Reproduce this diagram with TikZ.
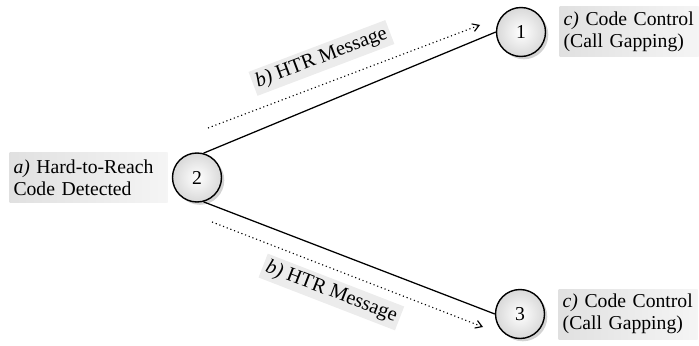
\documentclass[tikz,border=0pt]{standalone}
\usepackage{fontspec}
\setmainfont{Liberation Serif}
\usepackage{tikz}
\usetikzlibrary{positioning,arrows.meta,shadows}
\tikzset{
    htrnode/.style={draw, circle, line width=1pt, minimum size=1.225cm, inner sep=0pt, inner color=white, outer color=gray!30,
        drop shadow={shadow xshift=0.7mm, shadow yshift=-0.7mm, opacity=0.35}, font=\fontsize{14}{15.6}\selectfont},
    htrlabel/.style={rectangle, align=left, minimum height=1.25cm, inner xsep=0.1cm, left color=gray!24, right color=gray!8,
        font=\fontsize{14}{15.6}\selectfont},
    htrmsg/.style={rectangle, inner sep=2.5pt, fill=gray!15, font=\fontsize{14.5}{15.6}\selectfont, sloped},
    htrarrow/.style={draw, dotted, line width=0.8pt, -{Straight Barb[length=1.6mm, width=2mm]}},
    htrline/.style={draw, line width=0.9pt}
}
\begin{document}
\begin{tikzpicture}
    \useasboundingbox (0,0) rectangle (17.475,8.625);

    \node[htrnode] (n2) at (4.925,4.1875) {2};
    \node[htrnode] (n1) at (13.025,7.825) {1};
    \node[htrnode] (n3) at (13.0,0.775) {3};

    \node[htrlabel, text width=3.75cm, inner xsep=0.1cm, left=0.1cm of n2] (det) {\textit{a)} Hard-to-Reach\\Code Detected};
    \node[htrlabel, text width=3.275cm, right=0.33cm of n1] (ctrl1) {\textit{c)} Code Control\\(Call Gapping)};
    \node[htrlabel, text width=3.275cm, right=0.33cm of n3] (ctrl3) {\textit{c)} Code Control\\(Call Gapping)};

    \draw[htrline] (n2.75) -- (n1.180);
    \draw[htrline] (n2.285) -- (n3.180);

    % message arrows
    \coordinate (m1s) at (5.2,5.425);
    \coordinate (m1e) at (12.0,8.0);
    \coordinate (m3s) at (5.3,3.075);
    \coordinate (m3e) at (12.075,0.45);
    \draw[htrarrow] (m1s) -- node[htrmsg, pos=0.45, above=0.3cm] (msg1) {\textit{b)} HTR Message} (m1e);
    \draw[htrarrow] (m3s) -- node[htrmsg, pos=0.47, below=0.22cm] (msg3) {\textit{b)} HTR Message} (m3e);
\end{tikzpicture}
\end{document}
